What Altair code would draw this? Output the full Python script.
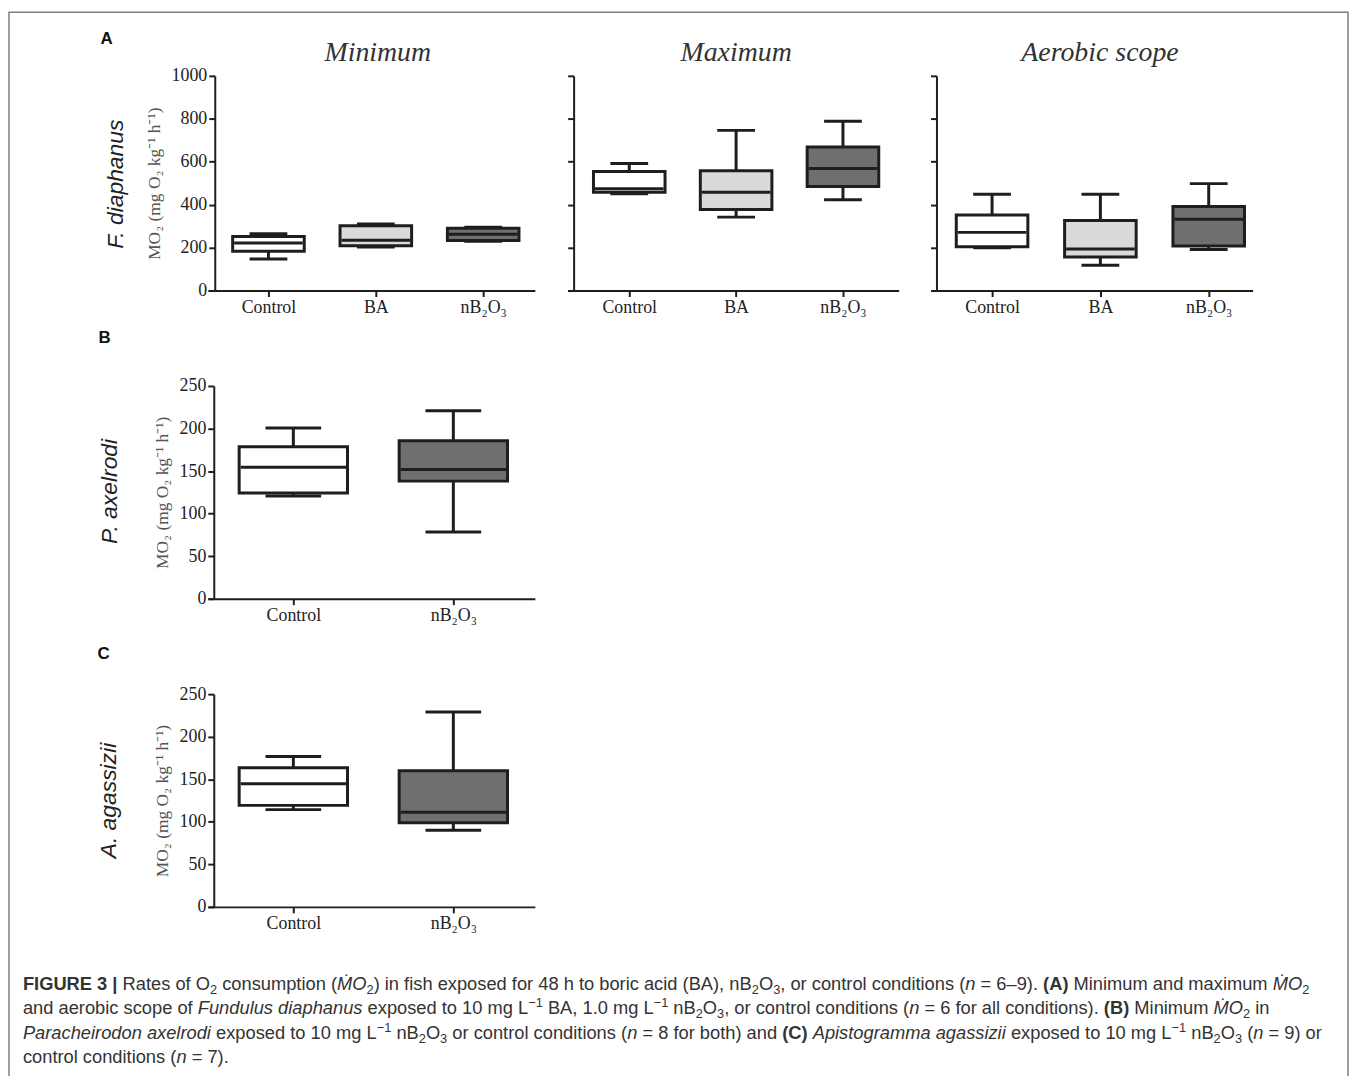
import altair as alt
import pandas as pd

# ---------------- data ----------------
GROUPS_A = ["Control", "BA", "nB₂O₃"]
GROUPS_BC = ["Control", "nB₂O₃"]

# (A) Fundulus diaphanus, MO2 (mg O2 kg-1 h-1): whisker low, Q1, median, Q3, whisker high
MIN_LOW = [147, 203, 230]
MIN_Q1 = [183, 209, 233]
MIN_MED = [222, 234, 262]
MIN_Q3 = [252, 302, 290]
MIN_HIGH = [265, 310, 295]

MAX_LOW = [451, 342, 423]
MAX_Q1 = [458, 377, 485]
MAX_MED = [474, 458, 569]
MAX_Q3 = [554, 558, 669]
MAX_HIGH = [592, 746, 788]

AS_LOW = [199, 118, 191]
AS_Q1 = [204, 156, 207]
AS_MED = [271, 194, 332]
AS_Q3 = [352, 326, 391]
AS_HIGH = [449, 449, 498]

# (B) Paracheirodon axelrodi
PA_LOW = [120.7, 78.3]
PA_Q1 = [124.2, 138.2]
PA_MED = [154.6, 151.9]
PA_Q3 = [178.7, 185.7]
PA_HIGH = [200.5, 220.8]

# (C) Apistogramma agassizii
AA_LOW = [114.3, 90.1]
AA_Q1 = [119.3, 99.0]
AA_MED = [144.7, 111.2]
AA_Q3 = [163.4, 160.0]
AA_HIGH = [176.7, 229.0]

TICKS_A = [0, 200, 400, 600, 800, 1000]
TICKS_BC = [0, 50, 100, 150, 200, 250]

Y_TITLE = "MO₂ (mg O₂ kg⁻¹ h⁻¹)"

CAPTION_LINES = [
    [("FIGURE 3 | ", "b"), ("Rates of O", "r"), ("2", "sub"), (" consumption (", "r"),
     ("ṀO", "i"), ("2", "sub"), (") in fish exposed for 48 h to boric acid (BA), nB", "r"),
     ("2", "sub"), ("O", "r"), ("3", "sub"), (", or control conditions (", "r"), ("n", "i"),
     (" = 6–9). ", "r"), ("(A)", "b"), (" Minimum and maximum ", "r"), ("ṀO", "i"), ("2", "sub")],
    [("and aerobic scope of ", "r"), ("Fundulus diaphanus", "i"), (" exposed to 10 mg L", "r"),
     ("−1", "sup"), (" BA, 1.0 mg L", "r"), ("−1", "sup"), (" nB", "r"), ("2", "sub"), ("O", "r"),
     ("3", "sub"), (", or control conditions (", "r"), ("n", "i"), (" = 6 for all conditions). ", "r"),
     ("(B)", "b"), (" Minimum ", "r"), ("ṀO", "i"), ("2", "sub"), (" in", "r")],
    [("Paracheirodon axelrodi", "i"), (" exposed to 10 mg L", "r"), ("−1", "sup"), (" nB", "r"),
     ("2", "sub"), ("O", "r"), ("3", "sub"), (" or control conditions (", "r"), ("n", "i"),
     (" = 8 for both) and ", "r"), ("(C)", "b"), (" ", "r"), ("Apistogramma agassizii", "i"),
     (" exposed to 10 mg L", "r"), ("−1", "sup"), (" nB", "r"), ("2", "sub"), ("O", "r"),
     ("3", "sub"), (" (", "r"), ("n", "i"), (" = 9) or", "r")],
    [("control conditions (", "r"), ("n", "i"), (" = 7).", "r")],
]

# ---------------- styles ----------------
INK = "#1e1e1e"
FILL = {"Control": "#ffffff", "BA": "#d9dadc", "nB₂O₃": "#6e6f71"}
SERIF = "Liberation Serif"
SANS = "Liberation Sans"
ONE = pd.DataFrame({"k": [0]})


def label(text, x, y, **mk):
    return alt.Chart(ONE).mark_text(text=text, font=SANS, baseline="alphabetic", **mk).encode(
        x=alt.value(x), y=alt.value(y))


def letter(text, x, y):
    return label(text, x, y, fontWeight="bold", fontSize=17, align="left", color="#111111")


def species(text, x, y):
    return label(text, x, y, fontStyle="italic", fontSize=23, align="center", angle=270,
                 color="#222222")


def panel(groups, low, q1, med, q3, high, ticks, width, height, pad, align,
          box_w, cap_w, yoffset, labels, ytitle=None, title=None, extra=()):
    df = pd.DataFrame({"group": groups, "low": low, "q1": q1, "med": med,
                       "q3": q3, "high": high})
    xaxis = alt.Axis(labelAngle=0, labelPadding=2, title=None)
    x = alt.X("group:N", sort=groups, title=None,
              scale=alt.Scale(type="point", padding=pad, align=align), axis=xaxis)
    ys = alt.Scale(domain=[ticks[0], ticks[-1]], nice=False)
    akw = dict(values=ticks, offset=yoffset, labels=labels, labelPadding=2, format="d")
    if ytitle:
        akw.update(title=ytitle, titleFont=SERIF, titleFontSize=17.5,
                   titleFontWeight="normal", titleColor="#555555", titlePadding=8)
    else:
        akw.update(title=None)
    yaxis = alt.Axis(**akw)

    base = alt.Chart(df)
    whisker = base.mark_rule(color=INK, strokeWidth=3).encode(
        x=x, y=alt.Y("low:Q", scale=ys, axis=yaxis), y2="high:Q")
    cap_lo = base.mark_tick(color=INK, size=cap_w, thickness=3, opacity=1).encode(
        x=x, y=alt.Y("low:Q", scale=ys, axis=yaxis))
    cap_hi = base.mark_tick(color=INK, size=cap_w, thickness=3, opacity=1).encode(
        x=x, y=alt.Y("high:Q", scale=ys, axis=yaxis))
    box = base.mark_bar(size=box_w, stroke=INK, strokeWidth=3, opacity=1).encode(
        x=x, y=alt.Y("q1:Q", scale=ys, axis=yaxis), y2="q3:Q",
        color=alt.Color("group:N", legend=None,
                        scale=alt.Scale(domain=groups, range=[FILL[g] for g in groups])))
    median = base.mark_tick(color=INK, size=box_w - 3, thickness=3, opacity=1).encode(
        x=x, y=alt.Y("med:Q", scale=ys, axis=yaxis))
    ch = alt.layer(whisker, cap_lo, cap_hi, box, median, *extra).properties(
        width=width, height=height)
    if title is not None:
        ch = ch.properties(title=title)
    return ch


def top_title(text, dx, offset):
    return alt.TitleParams(text=text, font=SERIF, fontStyle="italic", fontWeight="normal",
                           fontSize=28, color="#333333", anchor="middle", frame="group",
                           dx=dx, offset=offset)


min_p = panel(GROUPS_A, MIN_LOW, MIN_Q1, MIN_MED, MIN_Q3, MIN_HIGH, TICKS_A, 329, 216,
              0.523, 0.54, 72, 38, -7, True, Y_TITLE, top_title("Minimum", 6.5, 0),
              extra=[species("F. diaphanus", -85, 109)])
max_p = panel(GROUPS_A, MAX_LOW, MAX_Q1, MAX_MED, MAX_Q3, MAX_HIGH, TICKS_A, 333, 216,
              0.549, 0.525, 72, 38, -6, False, None, top_title("Maximum", 3, 8))
as_p = panel(GROUPS_A, AS_LOW, AS_Q1, AS_MED, AS_Q3, AS_HIGH, TICKS_A, 323, 216,
             0.482, 0.58, 72, 38, -5, False, None, top_title("Aerobic scope", 8, 8))

pa_p = panel(GROUPS_BC, PA_LOW, PA_Q1, PA_MED, PA_Q3, PA_HIGH, TICKS_BC, 329, 214,
             0.522, 0.512, 109, 56, -6, True, Y_TITLE,
             extra=[letter("B", -110, -43), species("P. axelrodi", -91, 106)])
aa_p = panel(GROUPS_BC, AA_LOW, AA_Q1, AA_MED, AA_Q3, AA_HIGH, TICKS_BC, 329, 214,
             0.522, 0.512, 109, 56, -6, True, Y_TITLE,
             extra=[letter("C", -111, -35), species("A. agassizii", -92, 107)])

# ---------------- caption (text layout with Arial/Liberation Sans metrics) ----------------
REG_W = {' ': 278, '(': 333, ')': 333, ',': 278, '.': 278, '-': 333, '–': 556, '−': 584,
         '=': 584, '|': 260, 'Ṁ': 833,
         'A': 667, 'B': 667, 'C': 722, 'D': 722, 'E': 667, 'F': 611, 'G': 778, 'H': 722,
         'I': 278, 'J': 500, 'K': 667, 'L': 556, 'M': 833, 'N': 722, 'O': 778, 'P': 667,
         'Q': 778, 'R': 722, 'S': 667, 'T': 611, 'U': 722, 'V': 667, 'W': 944, 'X': 667,
         'Y': 667, 'Z': 611,
         'a': 556, 'b': 556, 'c': 500, 'd': 556, 'e': 556, 'f': 278, 'g': 556, 'h': 556,
         'i': 222, 'j': 222, 'k': 500, 'l': 222, 'm': 833, 'n': 556, 'o': 556, 'p': 556,
         'q': 556, 'r': 333, 's': 500, 't': 278, 'u': 556, 'v': 500, 'w': 722, 'x': 500,
         'y': 500, 'z': 500}
for d in "0123456789":
    REG_W[d] = 556
BOLD_W = {' ': 278, '(': 333, ')': 333, '|': 280, '3': 556, 'A': 722, 'B': 722, 'C': 722,
          'E': 667, 'F': 611, 'G': 778, 'I': 278, 'R': 722, 'U': 722}

CAP_FS = 18.4
SMALL = 0.7
LINE_BASE = [-12.5, 12.0, 36.7, 61.3]
CAP_X0 = -186


def seg_w(text, kind):
    table = BOLD_W if kind == "b" else REG_W
    fs = CAP_FS * SMALL if kind in ("sub", "sup") else CAP_FS
    return sum(table.get(c, 556) for c in text) / 1000.0 * fs


rows = []
for li, line in enumerate(CAPTION_LINES):
    cx = CAP_X0
    for text, kind in line:
        lead = len(text) - len(text.lstrip(" "))
        draw = text.strip(" ")
        if draw:
            fs = CAP_FS * SMALL if kind in ("sub", "sup") else CAP_FS
            dy = 4 if kind == "sub" else (-7 if kind == "sup" else 0)
            rows.append({"text": draw, "x": cx + seg_w(" " * lead, kind), "y": LINE_BASE[li] + dy,
                         "fs": fs, "kind": kind})
        cx += seg_w(text, kind)
cap_df = pd.DataFrame(rows)


def cap_layer(kinds, **mk):
    return alt.Chart(cap_df).transform_filter(
        alt.FieldOneOfPredicate(field="kind", oneOf=kinds)
    ).mark_text(align="left", baseline="alphabetic", font=SANS, color="#333333", **mk).encode(
        x=alt.X("x:Q", scale=None, axis=None),
        y=alt.Y("y:Q", scale=None, axis=None),
        text="text:N",
        size=alt.Size("fs:Q", scale=None, legend=None))


frame = alt.Chart(ONE).mark_rect(
    fillOpacity=0, stroke="#7f7f7f", strokeWidth=1.5
).encode(x=alt.value(-200), x2=alt.value(1147), y=alt.value(-996), y2=alt.value(90))

caption = alt.layer(
    frame,
    letter("A", -108, -964),
    cap_layer(["r", "sub", "sup"], fontWeight="normal", fontStyle="normal"),
    cap_layer(["b"], fontWeight="bold", fontStyle="normal"),
    cap_layer(["i"], fontWeight="normal", fontStyle="italic"),
).properties(width=329, height=60)


def blank():
    return alt.Chart(ONE).mark_point(opacity=0).encode(
        x=alt.value(0), y=alt.value(0)).properties(width=1, height=1)


chart = alt.concat(
    min_p, max_p, as_p,
    pa_p, blank(), blank(),
    aa_p, blank(), blank(),
    caption,
    columns=3, spacing={"row": 96, "column": 33}, bounds="flush",
).properties(
    padding=0, background="white"
).configure_axis(
    domainColor=INK, domainWidth=2, tickColor=INK, tickWidth=2, tickSize=6,
    labelFont=SERIF, labelFontSize=18, labelColor="#222222", grid=False
).configure_view(strokeWidth=0)

chart.save("out.html", embed_options={"renderer": "svg", "actions": False})
